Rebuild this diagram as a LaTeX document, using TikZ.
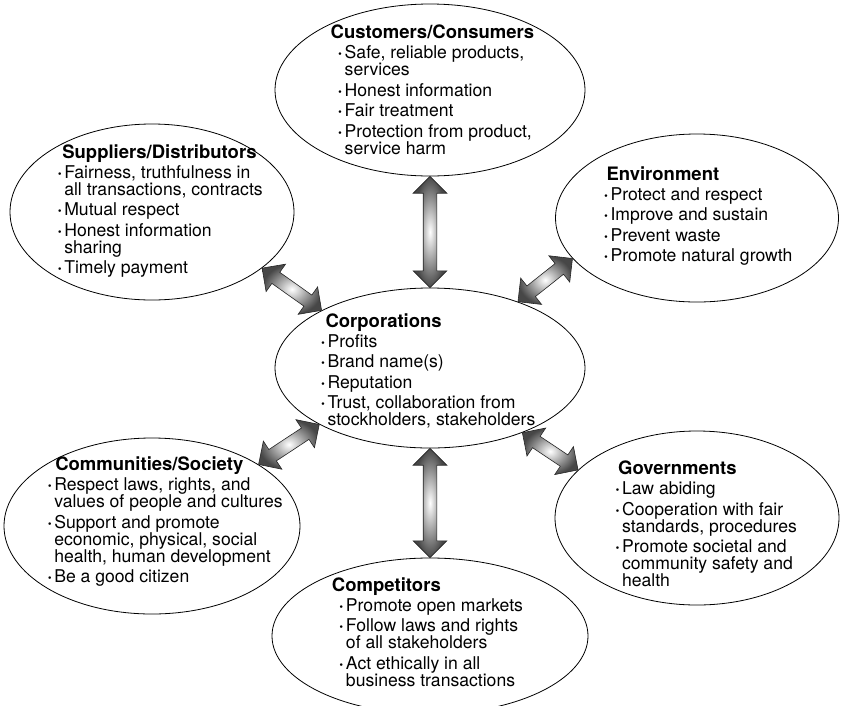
\documentclass[tikz,border=0pt]{standalone}
\usepackage{fontspec}
\setmainfont{TeX Gyre Heros}
\usetikzlibrary{shapes.geometric,shapes.arrows,calc}
\newcommand{\bul}{\makebox[7pt][l]{\bfseries ·}}
\newcommand{\ind}{\hspace*{7pt}}
\newcommand{\ttl}[1]{{\fontsize{18.5}{18}\selectfont\bfseries #1}}

\begin{document}
\begin{tikzpicture}[x=1pt,y=-1pt,
  stake/.style={ellipse, draw, line width=0.8pt, inner sep=0pt},
  txt/.style={align=left, inner sep=0pt, font=\fontsize{17.6}{17}\selectfont},
  fatarrow/.style={double arrow, draw=black!85, line width=0.6pt, minimum width=33pt,
    double arrow head extend=10pt, inner sep=6.5pt, inner color=white, outer color=black!72}]
\useasboundingbox (0,0) rectangle (841,705);
\node [stake, minimum width=310, minimum height=172] (cust) at (430,90) {};
\node [stake, minimum width=284, minimum height=176] (supp) at (152,212) {};
\node [stake, minimum width=283, minimum height=168] (env) at (697,218) {};
\node [stake, minimum width=310, minimum height=160] (corp) at (430,368) {};
\node [stake, minimum width=296, minimum height=176] (comm) at (152,526) {};
\node [stake, minimum width=284, minimum height=174] (gov) at (697,518) {};
\node [stake, minimum width=316, minimum height=156] (comp) at (430,636) {};
\node [txt] (custtxt) at (436,90) {\hspace*{-7pt}\ttl{Customers/Consumers}\\[3pt]
  \bul Safe, reliable products,\\ \ind services\\[3.5pt]
  \bul Honest information\\[3.5pt]
  \bul Fair treatment\\[3.5pt]
  \bul Protection from product,\\ \ind service harm};
\node [txt] (supptxt) at (160,211) {\hspace*{5pt}\ttl{Suppliers/Distributors}\\[3pt]
  \bul Fairness, truthfulness in\\ \ind all transactions, contracts\\[3.5pt]
  \bul Mutual respect\\[3.5pt]
  \bul Honest information\\ \ind sharing\\[3.5pt]
  \bul Timely payment};
\node [txt] (envtxt) at (698,216) {\hspace*{3pt}\ttl{Environment}\\[3pt]
  \bul Protect and respect\\[3.5pt]
  \bul Improve and sustain\\[3.5pt]
  \bul Prevent waste\\[3.5pt]
  \bul Promote natural growth};
\node [txt] (corptxt) at (428,371) {\hspace*{5pt}\ttl{Corporations}\\[3pt]
  \bul Profits\\[3.5pt]
  \bul Brand name(s)\\[3.5pt]
  \bul Reputation\\[3.5pt]
  \bul Trust, collaboration from\\ \ind stockholders, stakeholders};
\node [txt] (commtxt) at (165,522) {\hspace*{8pt}\ttl{Communities/Society}\\[3pt]
  \bul Respect laws, rights, and\\ \ind values of people and cultures\\[3.5pt]
  \bul Support and promote\\ \ind economic, physical, social\\ \ind health, human development\\[3.5pt]
  \bul Be a good citizen};
\node [txt] (govtxt) at (706,524) {\hspace*{3pt}\ttl{Governments}\\[3pt]
  \bul Law abiding\\[3.5pt]
  \bul Cooperation with fair\\ \ind standards, procedures\\[3.5pt]
  \bul Promote societal and\\ \ind community safety and\\ \ind health};
\node [txt] (comptxt) at (431,632) {\hspace*{-7pt}\ttl{Competitors}\\[3pt]
  \bul Promote open markets\\[3.5pt]
  \bul Follow laws and rights\\ \ind of all stakeholders\\[3.5pt]
  \bul Act ethically in all\\ \ind business transactions};
\path let \p1=(cust.south), \p2=(corp.north), \n1={veclen(\x2-\x1,\y2-\y1)} in
  (\p1) -- (\p2) node [fatarrow, midway, sloped, minimum height=\n1] (a1) {};
\path let \p1=(corp.south), \p2=(comp.north), \n1={veclen(\x2-\x1,\y2-\y1)} in
  (\p1) -- (\p2) node [fatarrow, midway, sloped, minimum height=\n1] (a2) {};
\path let \p1=(supp.-27), \p2=(corp.152), \n1={veclen(\x2-\x1,\y2-\y1)} in
  (\p1) -- (\p2) node [fatarrow, midway, sloped, minimum height=\n1] (a3) {};
\path let \p1=(env.198), \p2=(corp.37), \n1={veclen(\x2-\x1,\y2-\y1)} in
  (\p1) -- (\p2) node [fatarrow, midway, sloped, minimum height=\n1] (a4) {};
\path let \p1=(comm.30), \p2=(corp.207), \n1={veclen(\x2-\x1,\y2-\y1)} in
  (\p1) -- (\p2) node [fatarrow, midway, sloped, minimum height=\n1] (a5) {};
\path let \p1=(gov.158), \p2=(corp.-35), \n1={veclen(\x2-\x1,\y2-\y1)} in
  (\p1) -- (\p2) node [fatarrow, midway, sloped, minimum height=\n1] (a6) {};
\end{tikzpicture}
\end{document}
